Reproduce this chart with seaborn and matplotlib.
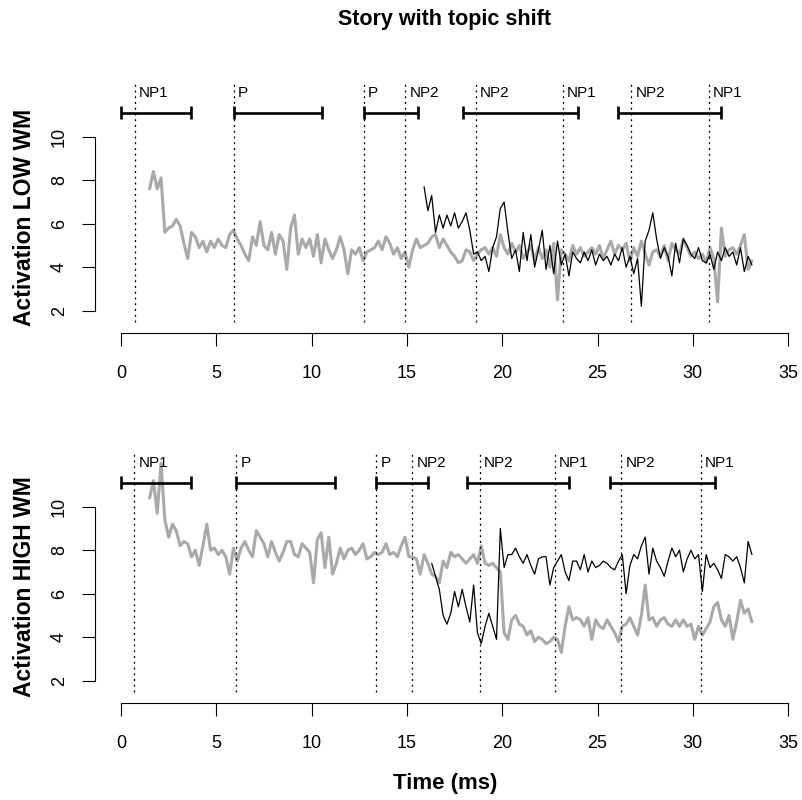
import numpy as np
import matplotlib
matplotlib.use("Agg")
import matplotlib.pyplot as plt
import seaborn as sns

# sampling of the activation traces (ms)
t0_gray = 1.5
t0_black_low = 15.9
t0_black_high = 16.3
dt = 0.2

low_gray = [7.6, 8.4, 7.6, 8.1, 5.6, 5.8, 5.9, 6.2, 5.9, 5.1,
            4.4, 5.6, 5.4, 4.9, 5.2, 4.7, 5.2, 4.9, 5.3, 5.0,
            4.9, 5.5, 5.7, 5.3, 5.0, 4.6, 4.3, 5.4, 5.0, 6.1,
            5.0, 4.8, 5.6, 4.6, 5.5, 5.2, 3.9, 5.8, 6.4, 4.6,
            5.3, 4.9, 5.3, 4.5, 5.5, 4.2, 5.3, 4.8, 4.4, 4.8,
            5.4, 4.8, 3.7, 4.8, 4.6, 4.9, 4.3, 4.7, 4.8, 4.9,
            5.2, 4.8, 5.4, 5.1, 4.6, 4.9, 4.4, 4.7, 4.0, 4.8,
            5.3, 4.9, 5.0, 5.1, 5.4, 5.5, 4.9, 5.3, 5.0, 4.7,
            4.5, 4.2, 4.3, 4.8, 4.7, 4.3, 4.6, 4.8, 4.9, 4.6,
            4.9, 4.5, 5.5, 4.9, 4.6, 5.1, 4.7, 5.0, 4.4, 4.7,
            5.0, 4.3, 4.9, 4.4, 4.8, 4.0, 5.1, 2.5, 4.8, 4.6,
            4.3, 5.0, 4.6, 4.9, 4.5, 4.7, 4.9, 4.6, 5.0, 4.4,
            4.8, 5.2, 4.6, 5.0, 4.8, 5.1, 4.3, 4.9, 4.5, 5.2,
            4.6, 4.1, 4.7, 4.8, 4.5, 5.0, 4.3, 5.1, 4.8, 4.6,
            5.3, 4.9, 4.5, 4.7, 4.4, 4.6, 4.2, 4.9, 4.4, 2.4,
            5.8, 4.5, 4.8, 4.9, 4.6, 5.0, 5.5, 3.9, 4.3]

low_black = [7.7, 6.6, 7.3, 5.6, 6.4, 5.8, 6.4, 5.9, 6.5, 5.8,
             6.1, 6.5, 5.7, 4.6, 4.7, 4.3, 4.5, 3.8, 4.9, 5.4,
             6.7, 7.0, 5.6, 4.4, 4.8, 3.8, 5.6, 4.3, 5.5, 4.0,
             4.8, 5.7, 3.9, 5.0, 3.7, 5.2, 4.1, 4.6, 3.6, 4.7,
             4.4, 4.2, 4.7, 4.3, 4.8, 4.1, 4.6, 4.3, 4.5, 4.1,
             4.6, 4.3, 4.9, 4.0, 4.5, 3.7, 4.4, 2.2, 5.2, 5.7,
             6.5, 5.3, 4.4, 4.9, 4.5, 3.6, 5.1, 4.2, 5.3, 5.0,
             4.6, 4.4, 4.9, 4.3, 4.2, 4.6, 3.9, 4.7, 4.3, 4.9,
             4.5, 4.7, 4.1, 4.9, 3.8, 4.5, 4.1]

high_gray = [10.4, 11.2, 9.7, 12.0, 9.4, 8.6, 9.2, 8.9, 8.2, 8.4,
             8.3, 7.7, 8.0, 7.3, 8.2, 9.2, 8.0, 8.1, 7.8, 8.0,
             7.7, 6.9, 8.1, 7.5, 8.1, 8.4, 8.0, 7.7, 8.9, 8.6,
             8.3, 7.7, 8.4, 7.9, 7.5, 7.9, 8.4, 8.4, 7.8, 7.7,
             8.3, 8.1, 7.9, 6.5, 8.5, 8.8, 7.2, 8.6, 6.9, 7.4,
             8.1, 7.6, 8.0, 8.1, 7.8, 8.0, 8.3, 7.6, 7.7, 7.9,
             7.8, 7.9, 8.3, 7.8, 7.9, 7.7, 8.2, 8.6, 7.7, 7.7,
             7.6, 6.9, 7.8, 7.4, 6.9, 6.8, 6.5, 7.5, 7.2, 7.9,
             7.7, 7.8, 7.6, 7.4, 7.6, 7.8, 7.4, 8.2, 7.4, 7.3,
             7.4, 7.2, 7.0, 4.2, 3.9, 4.8, 5.0, 4.6, 4.5, 4.1,
             4.3, 3.8, 4.0, 3.9, 3.7, 3.8, 4.0, 3.9, 3.3, 4.5,
             5.4, 4.8, 4.9, 4.8, 4.5, 4.9, 3.9, 4.8, 4.5, 4.4,
             4.8, 4.5, 4.2, 3.8, 4.5, 4.6, 4.9, 4.5, 4.1, 5.0,
             6.4, 4.8, 4.9, 4.5, 4.8, 4.9, 4.6, 4.5, 4.8, 4.5,
             4.8, 4.5, 4.6, 3.9, 4.5, 4.1, 4.4, 4.7, 5.4, 5.6,
             4.8, 4.5, 5.0, 3.9, 4.7, 5.7, 5.1, 5.3, 4.7]

high_black = [7.4, 6.8, 6.2, 5.0, 4.6, 5.1, 6.1, 5.4, 6.2, 5.4,
              4.7, 6.4, 4.2, 3.7, 4.5, 5.1, 4.5, 3.9, 9.0, 7.2,
              7.8, 7.8, 8.1, 7.7, 7.4, 7.8, 7.3, 6.9, 7.6, 7.7,
              7.7, 6.4, 7.2, 7.5, 7.8, 7.0, 6.6, 7.5, 7.5, 7.1,
              7.8, 7.0, 7.5, 7.2, 7.3, 7.5, 7.4, 7.2, 7.1, 7.5,
              7.8, 6.0, 7.3, 7.8, 7.6, 8.2, 8.6, 6.9, 8.1, 7.5,
              7.2, 6.8, 7.5, 8.1, 7.7, 8.0, 7.0, 7.6, 8.0, 7.6,
              7.8, 6.1, 7.8, 7.2, 7.4, 7.1, 6.7, 7.8, 7.7, 7.5,
              7.7, 7.2, 6.5, 8.4, 7.8]

# word onsets and phrase brackets
low_onsets = [0.73, 5.93, 12.74, 14.92, 18.62, 23.19, 26.77, 30.83]
high_onsets = [0.70, 6.04, 13.40, 15.27, 18.81, 22.75, 26.24, 30.41]
onset_labels = ["NP1", "P", "P", "NP2", "NP2", "NP1", "NP2", "NP1"]
low_br_start = [0, 5.93, 12.74, 17.94, 26.07]
low_br_end = [3.65, 10.54, 15.58, 23.99, 31.5]
high_br_start = [0, 6.02, 13.40, 18.13, 25.65]
high_br_end = [3.65, 11.22, 16.12, 23.5, 31.18]

sns.set_style("ticks")
plt.rcParams['font.family'] = ['Liberation Sans', 'DejaVu Sans']
plt.rcParams['text.color'] = 'black'
plt.rcParams['xtick.color'] = 'black'
plt.rcParams['ytick.color'] = 'black'
plt.rcParams['axes.labelcolor'] = 'black'

W, H = 802, 800
fig = plt.figure(figsize=(W / 100, H / 100), dpi=100)

panels = [
    (333, low_gray, low_black, t0_black_low, low_onsets, low_br_start, low_br_end,
     "Activation LOW WM", 217),
    (703, high_gray, high_black, t0_black_high, high_onsets, high_br_start, high_br_end,
     "Activation HIGH WM", 587),
]

for (ybot, gray, black, t0b, onsets, bs, be, ylab, ylab_y) in panels:
    ax = fig.add_axes([95 / W, (H - ybot) / H, 700 / W, 250 / H])
    tg = t0_gray + dt * np.arange(len(gray))
    tb = t0b + dt * np.arange(len(black))
    sns.lineplot(x=tg, y=gray, ax=ax, color="#A9A9A9", linewidth=2.2)
    sns.lineplot(x=tb, y=black, ax=ax, color="black", linewidth=0.9)

    ax.vlines(onsets, 1.5, 12.47, colors="black", linewidth=0.9,
              linestyles=(0, (1.6, 3.0)))
    for x, lab in zip(onsets, onset_labels):
        ax.text(x + 0.22, 12.0, lab, va="center", ha="left", fontsize=11)

    ax.hlines([11.1] * len(bs), bs, be, colors="black", linewidth=1.9)
    ax.vlines(bs + be, 10.8, 11.4, colors="black", linewidth=1.9)

    ax.set_xlim(-1.364, 35.36)
    ax.set_ylim(0.975, 12.47)
    ax.set_xticks([0, 5, 10, 15, 20, 25, 30, 35])
    ax.set_yticks([2, 4, 6, 8, 10])
    ax.set_yticklabels(["2", "4", "6", "8", "10"], rotation=90, va="center")
    ax.tick_params(direction="out", length=9.5, width=0.8, labelsize=13,
                   color="black", labelcolor="black")
    ax.tick_params(axis="x", pad=13.5)
    ax.tick_params(axis="y", pad=10)
    ax.set_xlabel("")
    ax.set_ylabel("")
    for s in ["top", "right"]:
        ax.spines[s].set_visible(False)
    ax.spines["left"].set_bounds(2, 10)
    ax.spines["bottom"].set_bounds(0, 35)
    for s in ["left", "bottom"]:
        ax.spines[s].set_linewidth(0.8)
        ax.spines[s].set_color("black")
    ax.patch.set_alpha(0)

    fig.text(25 / W, 1 - ylab_y / H, ylab, rotation=90, ha="center", va="center",
             fontsize=16.5, fontweight="bold")

fig.text(445 / W, 1 - 20 / H, "Story with topic shift", ha="center", va="center",
         fontsize=15.5, fontweight="bold")
fig.text(445 / W, 1 - 784 / H, "Time (ms)", ha="center", va="center",
         fontsize=16, fontweight="bold")

fig.savefig("out.png", dpi=100)
